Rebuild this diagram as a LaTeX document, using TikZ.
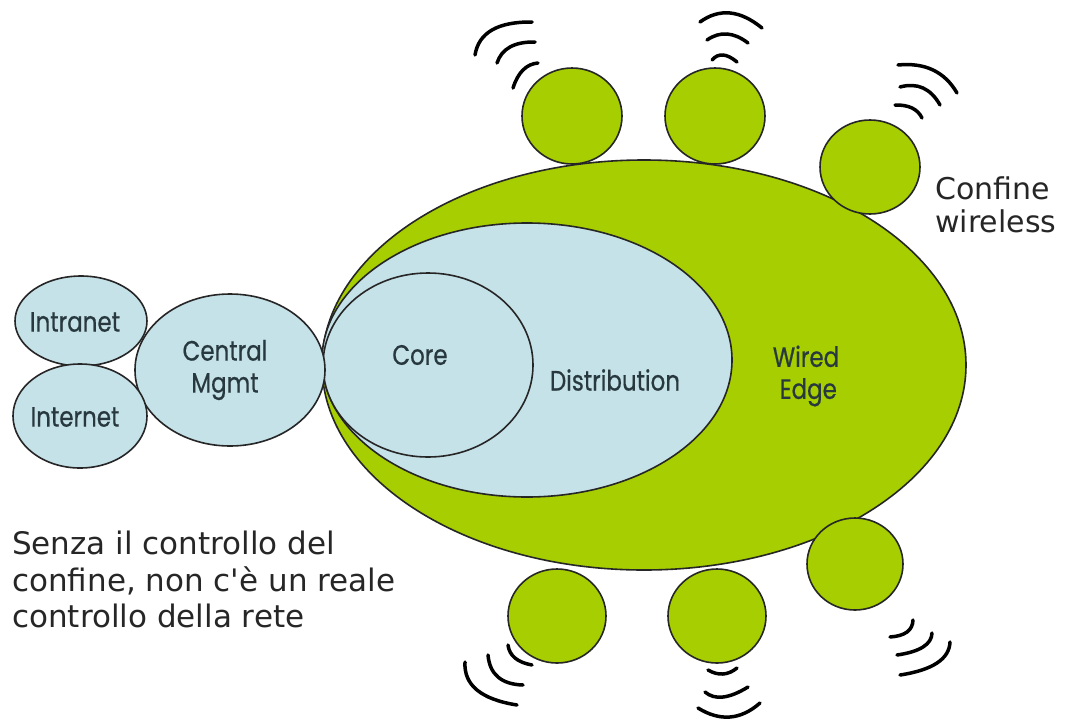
\documentclass[tikz,border=0pt]{standalone}
\usepackage{fontspec}
\usetikzlibrary{shapes.geometric,calc}
\newfontfamily\dvfont{DejaVu Sans}
\newfontfamily\labfont[FakeStretch=0.82,FakeBold=0.6]{Poppins}
\definecolor{wgreen}{HTML}{A6CE00}
\definecolor{wblue}{HTML}{C6E2E9}
\definecolor{wtext}{HTML}{27393E}
\newcommand\wv[3]{\draw[wave] #1 .. controls ($#1!0.6667!#2$) and ($#3!0.6667!#2$) .. #3;}
\begin{document}
\begin{tikzpicture}[x=1pt,y=-1pt,
  blob/.style={ellipse, draw=black!85, line width=1.6pt, inner sep=0pt},
  greenblob/.style={blob, fill=wgreen},
  blueblob/.style={blob, fill=wblue},
  lab/.style={font=\labfont\fontsize{28}{32}\selectfont, text=wtext, inner sep=0pt},
  wave/.style={line width=3.5pt, line cap=round, draw=black},
  note/.style={font=\dvfont, text=black!85, inner sep=0pt, align=left, anchor=north west}]
\useasboundingbox (0,0) rectangle (1065,718);
% main ellipses
\node[greenblob, minimum width=644pt, minimum height=410pt] (edge) at (644,365) {};
\node[blueblob, minimum width=410pt, minimum height=274pt] (dist) at (527,360) {};
\node[blueblob, minimum width=210pt, minimum height=184pt] (core) at (428,365) {};
\node[blueblob, minimum width=190pt, minimum height=152pt] (mgmt) at (230,370) {};
\node[blueblob, minimum width=132pt, minimum height=90pt] (intranet) at (81,321) {};
\node[blueblob, minimum width=134pt, minimum height=104pt] (internet) at (80,416) {};
% wireless access points
\node[greenblob, minimum width=100pt, minimum height=96pt] (ap1) at (572,116) {};
\node[greenblob, minimum width=100pt, minimum height=96pt] (ap2) at (715,116) {};
\node[greenblob, minimum width=100pt, minimum height=94pt] (ap3) at (870,167) {};
\node[greenblob, minimum width=98pt, minimum height=94pt] (ap4) at (557,616) {};
\node[greenblob, minimum width=98pt, minimum height=94pt] (ap5) at (717,616) {};
\node[greenblob, minimum width=96pt, minimum height=92pt] (ap6) at (855,564) {};
% labels
\node[lab] (tintra) at (75,322) {Intranet};
\node[lab] (tinter) at (75,417) {Internet};
\node[lab, align=center] (tmgmt) at (225,370) {Central\\Mgmt};
\node[lab] (tcore) at (420,355) {Core};
\node[lab] (tdist) at (615,380) {Distribution};
\node[lab, align=center] (tedge) at (806,376) {Wired\\\,Edge};
% waves
\wv{(475,55)}{(480.5,21.5)}{(532,22)}
\wv{(497,63)}{(504,41.5)}{(535,42)}
\wv{(513,88)}{(520.5,64.5)}{(538,63)}
\wv{(700,22)}{(729,1)}{(762,28)}
\wv{(707,40)}{(726.5,26.5)}{(748,43)}
\wv{(712,60)}{(721.5,49)}{(737,62)}
\wv{(898,65)}{(938.5,61)}{(957,93)}
\wv{(900,87)}{(926,80)}{(940,105)}
\wv{(895,105)}{(915.5,104.5)}{(922,118)}
\wv{(465,662)}{(463,696.5)}{(517,705)}
\wv{(488,655)}{(490.5,684)}{(523,685)}
\wv{(508,645)}{(510,661)}{(532,665)}
\wv{(708,670)}{(723.5,679)}{(737,668)}
\wv{(705,692)}{(719.5,704.5)}{(748,687)}
\wv{(698,708)}{(731,728.5)}{(760,703)}
\wv{(890,637)}{(912.5,635.5)}{(913,620)}
\wv{(897,655)}{(931.5,650)}{(932,633)}
\wv{(900,675)}{(949,667.5)}{(950,642)}
% notes
\node[note, font=\dvfont\fontsize{30}{33}\selectfont] (twireless) at (935,177) {Confine\\wireless};
\node[note, font=\dvfont\fontsize{31}{36.5}\selectfont] (tcontrol) at (12,531) {Senza il controllo del\\confine, non c\textquotesingle è un reale\\controllo della rete};
\end{tikzpicture}
\end{document}
